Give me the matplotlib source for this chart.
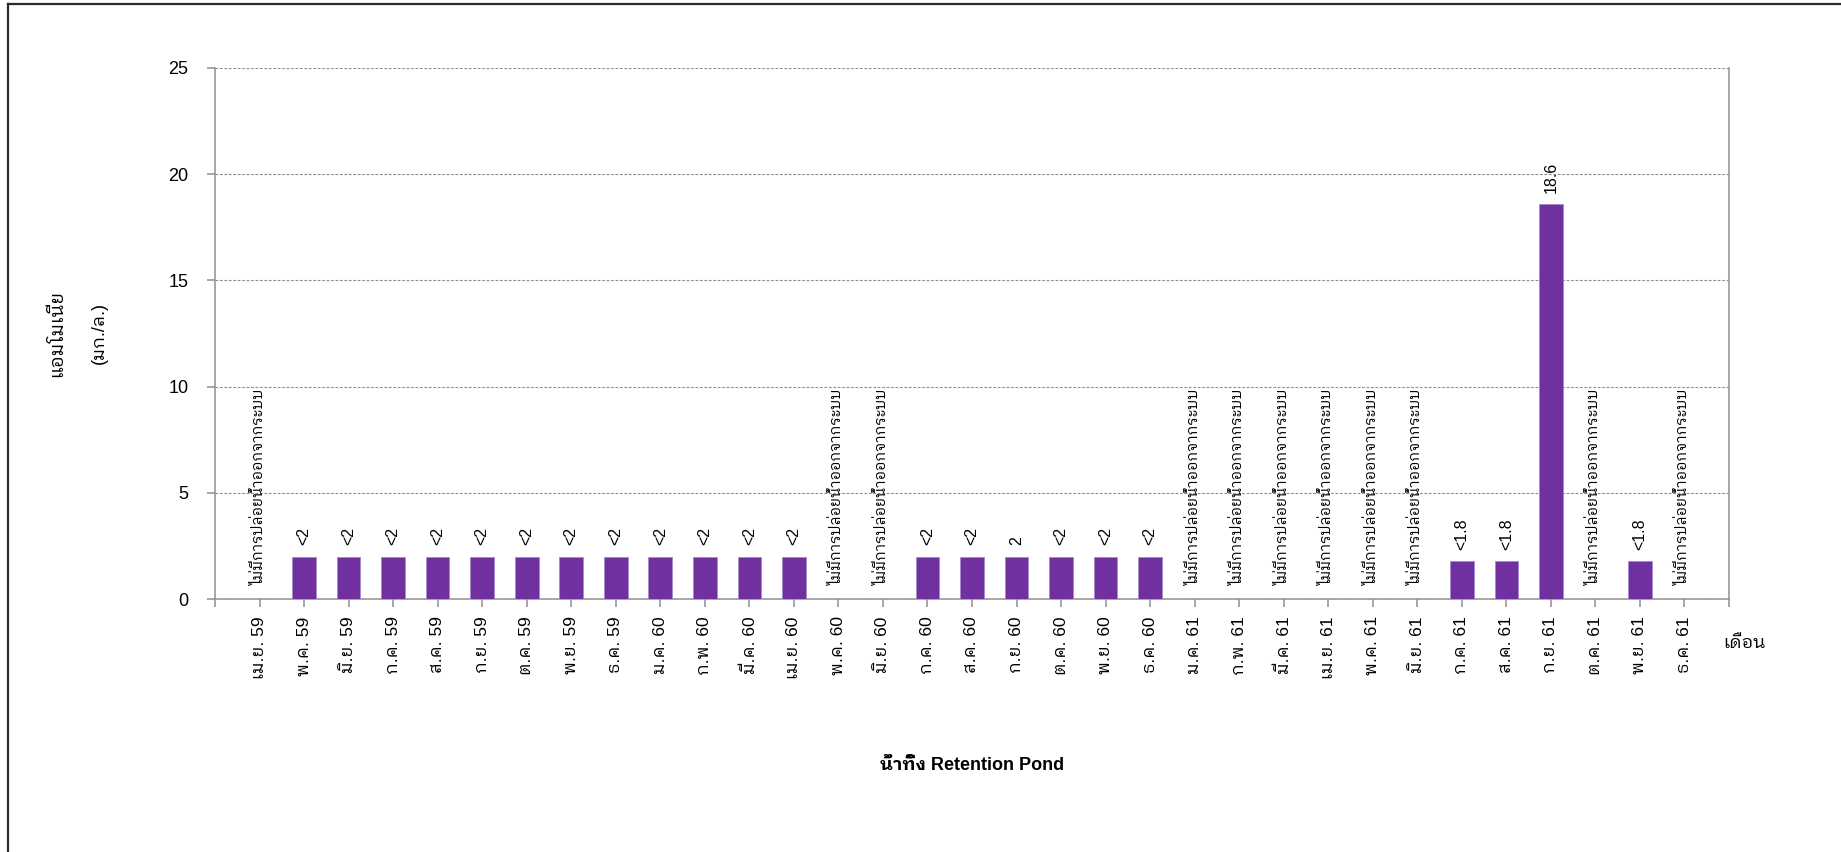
import numpy as np
import matplotlib
matplotlib.use("Agg")
import matplotlib.pyplot as plt
from matplotlib import font_manager, ft2font
from matplotlib.lines import Line2D

# ---------------- data ----------------
months = ["เม.ย. 59", "พ.ค. 59", "มิ.ย. 59", "ก.ค. 59", "ส.ค. 59", "ก.ย. 59",
          "ต.ค. 59", "พ.ย. 59", "ธ.ค. 59", "ม.ค. 60", "ก.พ. 60", "มี.ค. 60",
          "เม.ย. 60", "พ.ค. 60", "มิ.ย. 60", "ก.ค. 60", "ส.ค. 60", "ก.ย. 60",
          "ต.ค. 60", "พ.ย. 60", "ธ.ค. 60", "ม.ค. 61", "ก.พ. 61", "มี.ค. 61",
          "เม.ย. 61", "พ.ค. 61", "มิ.ย. 61", "ก.ค. 61", "ส.ค. 61", "ก.ย. 61",
          "ต.ค. 61", "พ.ย. 61", "ธ.ค. 61"]
N = np.nan
values = [N, 2, 2, 2, 2, 2, 2, 2, 2, 2, 2, 2, 2,
          N, N, 2, 2, 2, 2, 2, 2,
          N, N, N, N, N, N, 1.8, 1.8, 18.6, N, 1.8, N]
value_labels = ["", "<2", "<2", "<2", "<2", "<2", "<2", "<2", "<2", "<2", "<2", "<2", "<2",
                "", "", "<2", "<2", "2", "<2", "<2", "<2",
                "", "", "", "", "", "", "<1.8", "<1.8", "18.6", "", "<1.8", ""]
no_discharge_text = "ไม่มีการปล่อยน้ำออกจากระบบ"
y_ticks = [0, 5, 10, 15, 20, 25]
y_label_1 = "แอมโมเนีย"
y_label_2 = "(มก./ล.)"
x_unit_label = "เดือน"
x_title = "น้ำทิ้ง Retention Pond"

# ---------------- fonts ----------------
def has_glyph(path, cp=0x0E01):
    try:
        return cp in ft2font.FT2Font(path).get_charmap()
    except Exception:
        return False

thai_fonts = []
for fe in font_manager.fontManager.ttflist:
    if fe.name not in thai_fonts and has_glyph(fe.fname):
        thai_fonts.append(fe.name)
def score(n):
    s = 0
    if "Thai" in n: s -= 10
    if "Looped" in n: s -= 6
    if "Sans" in n: s -= 5
    if "Serif" in n: s += 4
    if "UI" in n: s += 1
    return s
thai_fonts.sort(key=score)
fam = ["Liberation Sans"] + thai_fonts[:2] + ["DejaVu Sans"]
plt.rcParams["font.family"] = fam

# ---------------- figure ----------------
W, H = 1841, 852
fig = plt.figure(figsize=(W / 100, H / 100), dpi=100)
fig.patch.set_facecolor("white")

# outer frame (left and top edges visible)
fig.add_artist(Line2D([8 / W, 8 / W], [0, 1 - 4 / H], transform=fig.transFigure,
                      color="#2b2b2b", lw=1.6))
fig.add_artist(Line2D([8 / W, 1], [1 - 4 / H, 1 - 4 / H], transform=fig.transFigure,
                      color="#2b2b2b", lw=1.6))

L, R, T, B = 215, 1729, 68, 599
ax = fig.add_axes([L / W, 1 - B / H, (R - L) / W, (B - T) / H])

x = np.arange(len(months))
vals = np.array(values, dtype=float)
mask = ~np.isnan(vals)
ax.bar(x[mask], vals[mask], width=0.53, color="#7030A0", edgecolor="#a58bc8",
       linewidth=0.6, zorder=3)

ax.set_xlim(-1, len(months))
ax.set_ylim(0, 25)

gray = "#8f8f8f"
ax.set_yticks(y_ticks)
ax.yaxis.grid(True, linestyle=(0, (2.5, 1.5)), color=gray, linewidth=0.8, zorder=0)
ax.set_axisbelow(True)
for s in ["left", "right", "bottom"]:
    ax.spines[s].set_color(gray)
    ax.spines[s].set_linewidth(1.1)
ax.spines["top"].set_visible(False)

ax.set_xticks(np.arange(-1, len(months) + 1), minor=True)
ax.set_xticks(x)
ax.set_xticklabels(months, rotation=90, fontsize=12.5)
ax.tick_params(axis="x", which="both", length=6, color=gray, width=1.1, pad=6.5)
ax.tick_params(axis="y", length=6, color=gray, width=1.1, pad=13, labelsize=13)

# data labels
for xi, v, lab in zip(x, vals, value_labels):
    if np.isnan(v):
        ax.annotate(no_discharge_text, (xi, 0), xytext=(0, 9), textcoords="offset points",
                    rotation=90, ha="center", va="bottom", fontsize=10.5, zorder=4)
    else:
        ax.annotate(lab, (xi, v), xytext=(0, 8), textcoords="offset points",
                    rotation=90, ha="center", va="bottom", fontsize=11.5, zorder=4)

# axis labels
ycen = 1 - ((T + B) / 2) / H
fig.text(57 / W, ycen, y_label_1, rotation=90, ha="center", va="center", fontsize=13.5)
fig.text(99 / W, ycen, y_label_2, rotation=90, ha="center", va="center", fontsize=13)
fig.text(1745 / W, 1 - 643 / H, x_unit_label, ha="center", va="center", fontsize=13)
fig.text(((L + R) / 2) / W, 1 - 765 / H, x_title, ha="center", va="center",
         fontsize=13, fontweight="bold")

fig.savefig("out.png", dpi=100)
